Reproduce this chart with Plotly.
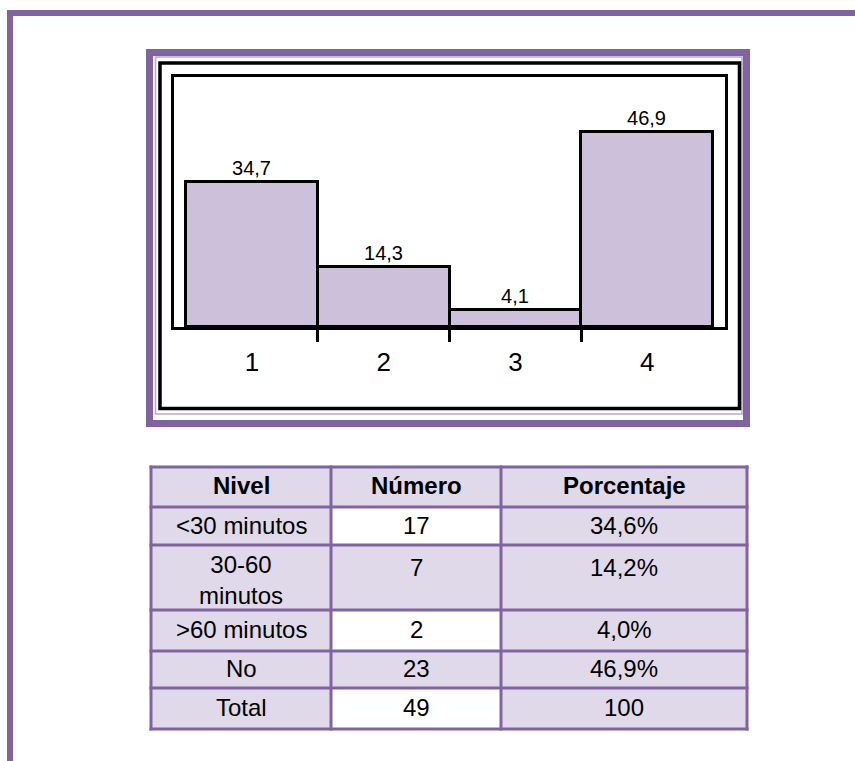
import plotly.graph_objects as go

# ---- data ----
categorias = ["1", "2", "3", "4"]
porcentajes = [34.7, 14.3, 4.1, 46.9]

tabla_encabezado = ["Nivel", "Número", "Porcentaje"]
tabla_nivel = ["&lt;30 minutos", "30-60<br>minutos", "&gt;60 minutos", "No", "Total"]
tabla_numero = ["17", "7", "2", "23", "49"]
tabla_porcentaje = ["34,6%", "14,2%", "4,0%", "46,9%", "100"]

# ---- page geometry helpers (pixels -> paper) ----
W, H = 855, 761


def px(x):
    return x / W


def py(y):
    return 1 - y / H


PURPLE = "#8064A2"
BAR_FILL = "#CCC0DA"
CELL_FILL = "#E0D9E9"
FONT = "Liberation Sans, Arial, sans-serif"

xpos = list(range(len(categorias)))

fig = go.Figure()

fig.add_trace(go.Bar(
    x=xpos,
    y=porcentajes,
    width=1.0,
    marker=dict(color=BAR_FILL, line=dict(color="black", width=3)),
    texttemplate="%{y:.1f}",
    textposition="outside",
    textfont=dict(family=FONT, size=20, color="black"),
    cliponaxis=False,
    showlegend=False,
    hoverinfo="skip",
))

# invisible trace that carries the secondary x-axis (category separator ticks)
fig.add_trace(go.Scatter(
    x=[xpos[0]], y=[0], xaxis="x2", yaxis="y",
    mode="markers", marker=dict(opacity=0), showlegend=False, hoverinfo="skip",
))

xr = [-0.591, 3.591]

# ---- summary table, drawn cell by cell ----
col_edges = [151, 331, 501, 747]
row_edges = [467, 507, 545, 610, 651, 688, 729]

columnas = [tabla_nivel, tabla_numero, tabla_porcentaje]
filas = [["<b>%s</b>" % t for t in tabla_encabezado]] + [
    [columnas[c][r] for c in range(3)] for r in range(len(tabla_nivel))
]

table_shapes = []
table_notes = []
for r, fila in enumerate(filas):
    top, bottom = row_edges[r], row_edges[r + 1]
    for c, texto in enumerate(fila):
        left, right = col_edges[c], col_edges[c + 1]
        white = (c == 1 and r in (1, 3, 5))
        table_shapes.append(dict(
            type="rect", xref="paper", yref="paper", layer="below",
            x0=px(left), x1=px(right), y0=py(bottom), y1=py(top),
            fillcolor="white" if white else CELL_FILL,
            line=dict(width=0),
        ))
        cx = px((left + right) / 2)
        if "<br>" in texto:
            note = dict(y=py(top + 4), yanchor="top")
        elif bottom - top > 50:
            note = dict(y=py(top + 22), yanchor="middle")
        else:
            note = dict(y=py((top + bottom) / 2 - 1), yanchor="middle")
        note.update(
            x=cx, xanchor="center", xref="paper", yref="paper",
            text=texto, showarrow=False, align="center",
            font=dict(family=FONT, size=24, color="black"),
        )
        table_notes.append(note)

# grid lines of the table
for x in col_edges:
    table_shapes.append(dict(
        type="line", xref="paper", yref="paper",
        x0=px(x), x1=px(x), y0=py(row_edges[0] - 1.5), y1=py(row_edges[-1] + 1.5),
        line=dict(color=PURPLE, width=3),
    ))
for y in row_edges:
    table_shapes.append(dict(
        type="line", xref="paper", yref="paper",
        x0=px(col_edges[0] - 1.5), x1=px(col_edges[-1] + 1.5), y0=py(y), y1=py(y),
        line=dict(color=PURPLE, width=3),
    ))

frame_shapes = [
    # page border: top and left rule
    dict(type="line", xref="paper", yref="paper",
         x0=px(7), x1=px(870), y0=py(13), y1=py(13),
         line=dict(color=PURPLE, width=6)),
    dict(type="line", xref="paper", yref="paper",
         x0=px(10), x1=px(10), y0=py(10), y1=py(800),
         line=dict(color=PURPLE, width=6)),
    # chart frame: thin lavender rule, black box, thick purple border
    dict(type="rect", xref="paper", yref="paper",
         x0=px(155.5), x1=px(742), y0=py(57), y1=py(414),
         line=dict(color="#B9A9CF", width=1.5)),
    dict(type="rect", xref="paper", yref="paper",
         x0=px(160), x1=px(739.5), y0=py(63), y1=py(408.5),
         line=dict(color="black", width=3.5)),
    dict(type="rect", xref="paper", yref="paper",
         x0=px(149.5), x1=px(746.5), y0=py(52.5), y1=py(423.5),
         line=dict(color=PURPLE, width=7)),
]

fig.update_layout(
    width=W, height=H,
    margin=dict(l=0, r=0, t=0, b=0),
    paper_bgcolor="white",
    plot_bgcolor="white",
    separators=",.",
    bargap=0,
    xaxis=dict(
        domain=[px(174), px(725)],
        range=xr,
        tickvals=xpos,
        ticktext=categorias,
        ticks="outside",
        ticklen=10,
        tickcolor="rgba(0,0,0,0)",
        tickfont=dict(family=FONT, size=26, color="black"),
        showline=True, linecolor="black", linewidth=3, mirror=True,
        showgrid=False, zeroline=False, fixedrange=True,
    ),
    xaxis2=dict(
        domain=[px(174), px(725)],
        range=xr,
        overlaying="x",
        anchor="y",
        side="bottom",
        tickvals=[0.5, 1.5, 2.5],
        ticks="outside",
        ticklen=14,
        tickwidth=3,
        tickcolor="black",
        showticklabels=False,
        showline=False, showgrid=False, zeroline=False, fixedrange=True,
    ),
    yaxis=dict(
        domain=[py(327), py(77)],
        range=[0, 60],
        showticklabels=False,
        ticks="",
        showline=True, linecolor="black", linewidth=3, mirror=True,
        showgrid=False, zeroline=False, fixedrange=True,
    ),
    shapes=table_shapes + frame_shapes,
    annotations=table_notes,
)

fig.write_html("out.html")
